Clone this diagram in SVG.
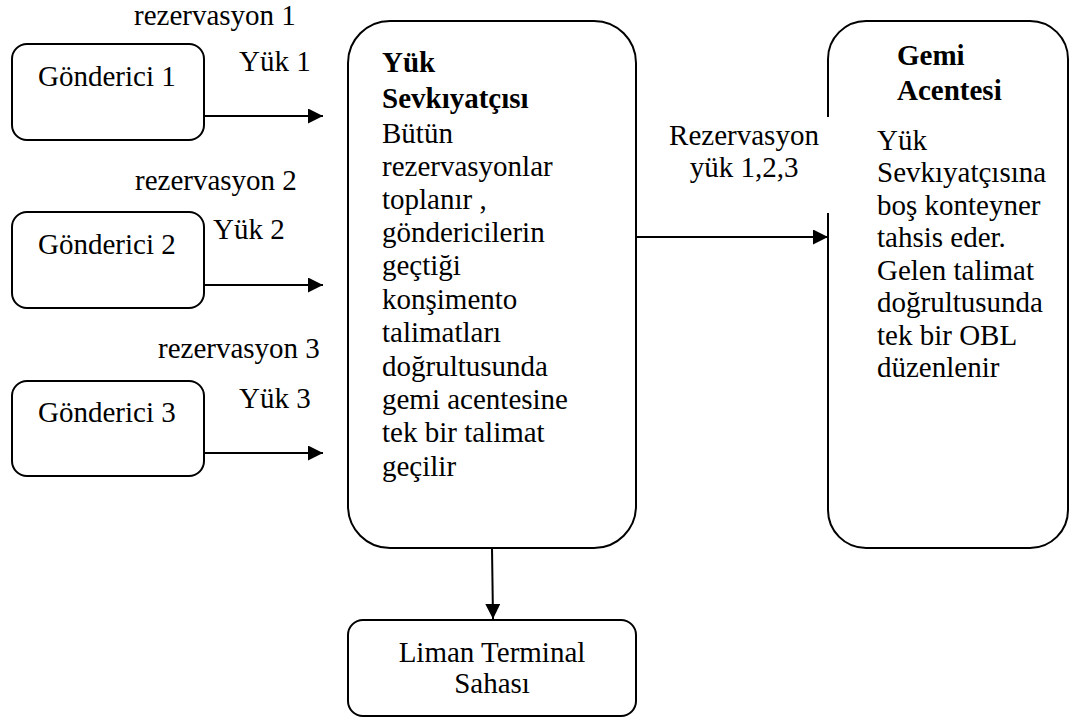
<svg xmlns="http://www.w3.org/2000/svg" width="1075" height="720" viewBox="0 0 1075 720">
  <style>
    .box { fill: #ffffff; stroke: #000000; stroke-width: 2; }
    .txt { font-family: 'Liberation Serif', 'DejaVu Serif', 'Times New Roman', serif; font-size: 29px; fill: #000000; }
    .bold { font-weight: bold; }
    .mid { text-anchor: middle; }
    .link { stroke: #000000; stroke-width: 2; fill: none; marker-end: url(#arrow); }
  </style>
  <defs>
    <marker id="arrow" markerUnits="userSpaceOnUse" markerWidth="16" markerHeight="16" refX="15" refY="7.5" orient="auto">
      <path d="M0,0 L15,7.5 L0,15 Z" fill="#000000"/>
    </marker>
  </defs>

  <rect width="1075" height="720" fill="#ffffff"/>

  <g font-family="Liberation Serif, DejaVu Serif, serif">
  <!-- shippers -->
  <g id="sender1">
    <rect class="box" x="12" y="44" width="192" height="96" rx="15"/>
    <text class="txt" x="38" y="86">Gönderici 1</text>
  </g>
  <g id="sender2">
    <rect class="box" x="12" y="212" width="192" height="96" rx="15"/>
    <text class="txt" x="38" y="254">Gönderici 2</text>
  </g>
  <g id="sender3">
    <rect class="box" x="12" y="381" width="192" height="95" rx="15"/>
    <text class="txt" x="38" y="422">Gönderici 3</text>
  </g>

  <!-- freight forwarder -->
  <g id="forwarder">
    <rect class="box" x="348" y="21" width="288" height="527" rx="42"/>
    <text class="txt bold" x="382" y="72">Yük</text>
    <text class="txt bold" x="382" y="108">Sevkıyatçısı</text>
    <text class="txt">
      <tspan x="382" y="143">Bütün</tspan>
      <tspan x="382" y="176">rezervasyonlar</tspan>
      <tspan x="382" y="209">toplanır ,</tspan>
      <tspan x="382" y="242">göndericilerin</tspan>
      <tspan x="382" y="275">geçtiği</tspan>
      <tspan x="382" y="309">konşimento</tspan>
      <tspan x="382" y="342">talimatları</tspan>
      <tspan x="382" y="376">doğrultusunda</tspan>
      <tspan x="382" y="409">gemi acentesine</tspan>
      <tspan x="382" y="442">tek bir talimat</tspan>
      <tspan x="382" y="476">geçilir</tspan>
    </text>
  </g>

  <!-- shipping agent -->
  <g id="agent">
    <rect class="box" x="828" y="21" width="240" height="527" rx="38"/>
    <text class="txt bold" x="897" y="65">Gemi</text>
    <text class="txt bold" x="897" y="100">Acentesi</text>
    <text class="txt">
      <tspan x="877" y="150">Yük</tspan>
      <tspan x="877" y="182">Sevkıyatçısına</tspan>
      <tspan x="877" y="215">boş konteyner</tspan>
      <tspan x="877" y="247">tahsis eder.</tspan>
      <tspan x="877" y="280">Gelen talimat</tspan>
      <tspan x="877" y="312">doğrultusunda</tspan>
      <tspan x="877" y="345">tek bir OBL</tspan>
      <tspan x="877" y="377">düzenlenir</tspan>
    </text>
  </g>

  <!-- port terminal -->
  <g id="terminal">
    <rect class="box" x="348" y="620" width="288" height="96" rx="15"/>
    <text class="txt mid" x="492" y="662">Liman Terminal</text>
    <text class="txt mid" x="492" y="693">Sahası</text>
  </g>

  <!-- connectors and their labels -->
  <g id="connectors">
    <line class="link" x1="204" y1="116" x2="323" y2="116"/>
    <line class="link" x1="204" y1="285" x2="323" y2="285"/>
    <line class="link" x1="204" y1="453" x2="323" y2="453"/>
    <line class="link" x1="636" y1="237" x2="828" y2="237"/>
    <line class="link" x1="492" y1="548" x2="493" y2="619"/>

    <text class="txt" x="134" y="25">rezervasyon 1</text>
    <text class="txt" x="239" y="71">Yük 1</text>
    <text class="txt" x="135" y="190">rezervasyon 2</text>
    <text class="txt" x="213" y="239">Yük 2</text>
    <text class="txt" x="158" y="358">rezervasyon 3</text>
    <text class="txt" x="239" y="408">Yük 3</text>

    <rect x="638" y="117" width="191" height="96" fill="#ffffff"/>
    <text class="txt mid" x="744" y="145">Rezervasyon</text>
    <text class="txt mid" x="744" y="177">yük 1,2,3</text>
  </g>
  </g>
</svg>
